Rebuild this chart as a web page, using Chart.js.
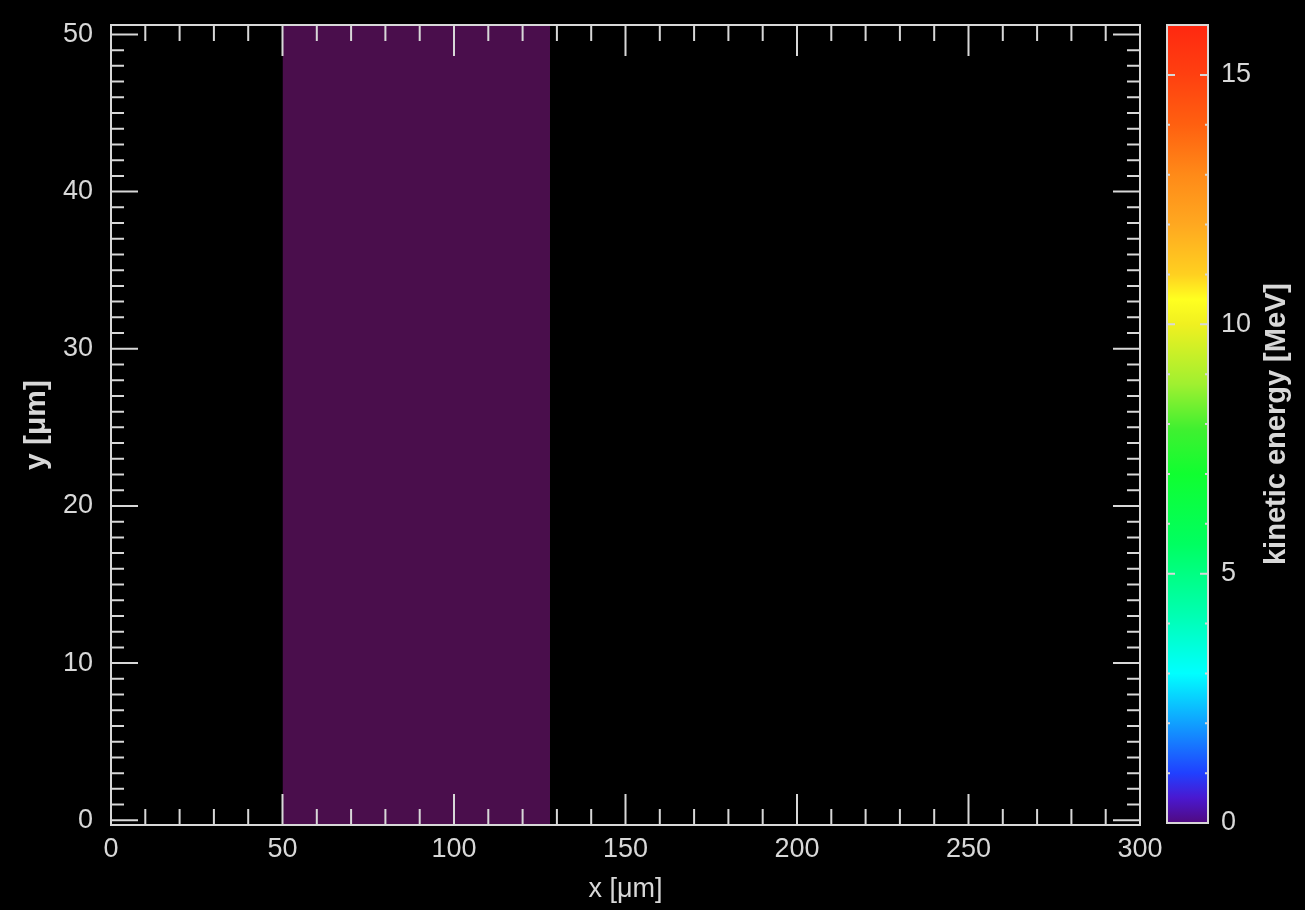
<!DOCTYPE html>
<html>
<head>
<meta charset="utf-8">
<script src="https://cdn.jsdelivr.net/npm/chart.js@4.4.0/dist/chart.umd.min.js"></script>
<style>
  html, body { margin: 0; padding: 0; background: #000; }
  #wrap { position: relative; width: 1305px; height: 910px; }
  #plot { position: absolute; left: 0; top: 0; }
  #cbar { position: absolute; left: 1150px; top: 0; }
</style>
</head>
<body>
<div id="wrap">
  <canvas id="plot" width="1305" height="910"></canvas>
  <canvas id="cbar" width="155" height="910"></canvas>
</div>
<script>
// axes (µm)
const xRange = [0, 300];
const yRange = [-0.3, 50.6];
const xTicks = [0, 50, 100, 150, 200, 250, 300];
const yTicks = [0, 10, 20, 30, 40, 50];
const xMinorStep = 10;
const yMinorStep = 1;

// the slab of particles (all at ~0 MeV)
const slabX = [50, 128];
const slabY = [50.6, 50.6];
const slabColor = '#4a0e4c';

// colour bar, kinetic energy [MeV]
const cbRange = [0, 16];
const cbTicks = [0, 5, 10, 15];
const cbStopValues = [0, 0.5, 1, 2, 3, 4.2, 5.6, 7, 7.9, 8.8, 10, 10.5, 11, 12, 13, 14, 15, 16];
const cbStopColors = ['#500a80', '#4a18d0', '#2040ff', '#10a0ff', '#00ffff', '#00ffb0', '#00ff60',
  '#10ff30', '#40f030', '#a0f030', '#f0f020', '#ffff20', '#ffd020', '#ffa820', '#ff8a18',
  '#ff6010', '#ff4010', '#ff2810'];

const fg = '#d8d8d8';
const fontFam = '"Liberation Sans", Arial, sans-serif';

// no extra room for first/last labels, the box is fixed
function noPad(s) {
  s.paddingLeft = 0; s.paddingRight = 0; s.paddingTop = 0; s.paddingBottom = 0;
}

// inward ticks on all four sides + box
const frame = {
  id: 'frame',
  afterDraw(chart) {
    const { ctx, chartArea: a, scales: { x, y } } = chart;
    ctx.save();
    ctx.strokeStyle = fg;
    ctx.lineWidth = 2;
    ctx.beginPath();
    for (let v = xRange[0]; v <= xRange[1]; v += xMinorStep) {
      const px = x.getPixelForValue(v);
      const len = xTicks.includes(v) ? 31 : 16;
      ctx.moveTo(px, a.bottom); ctx.lineTo(px, a.bottom - len);
      ctx.moveTo(px, a.top); ctx.lineTo(px, a.top + len);
    }
    for (let v = yTicks[0]; v <= yTicks[yTicks.length - 1]; v += yMinorStep) {
      const py = y.getPixelForValue(v);
      const len = yTicks.includes(v) ? 27 : 13;
      ctx.moveTo(a.left, py); ctx.lineTo(a.left + len, py);
      ctx.moveTo(a.right, py); ctx.lineTo(a.right - len, py);
    }
    ctx.stroke();
    ctx.strokeRect(a.left, a.top, a.width, a.height);
    ctx.restore();
  }
};

new Chart(document.getElementById('plot'), {
  type: 'line',
  data: {
    datasets: [{
      data: slabX.map((x, i) => ({ x: x, y: slabY[i] })),
      fill: 'start',
      backgroundColor: slabColor,
      borderWidth: 0,
      pointRadius: 0
    }]
  },
  options: {
    responsive: false,
    animation: false,
    layout: { padding: { top: 25, right: 165, left: 0, bottom: 0 } },
    plugins: { legend: { display: false }, tooltip: { enabled: false } },
    scales: {
      x: {
        type: 'linear', min: xRange[0], max: xRange[1],
        grid: { display: false, drawTicks: false },
        border: { display: false },
        afterBuildTicks: s => { s.ticks = xTicks.map(v => ({ value: v })); },
        afterFit: s => { s.height = 85; noPad(s); },
        ticks: { color: fg, font: { family: fontFam, size: 27 }, padding: 8, maxRotation: 0, autoSkip: false },
        title: { display: true, text: 'x [μm]', color: fg, font: { family: fontFam, size: 27 }, padding: { top: 0, bottom: 4 } }
      },
      y: {
        type: 'linear', min: yRange[0], max: yRange[1],
        grid: { display: false, drawTicks: false },
        border: { display: false },
        afterBuildTicks: s => { s.ticks = yTicks.map(v => ({ value: v })); },
        afterFit: s => { s.width = 111; noPad(s); },
        ticks: { color: fg, font: { family: fontFam, size: 27 }, padding: 18, autoSkip: false },
        title: { display: true, text: 'y [μm]', color: fg, font: { family: fontFam, size: 30, weight: 'bold' }, padding: { top: 19, bottom: 0 } }
      }
    }
  },
  plugins: [frame]
});

// colour bar box, ticks and rotated title
const cbFrame = {
  id: 'cbFrame',
  afterDraw(chart) {
    const { ctx, chartArea: a, scales: { y } } = chart;
    ctx.save();
    ctx.strokeStyle = fg;
    ctx.lineWidth = 2;
    ctx.beginPath();
    for (let v = cbRange[0]; v <= cbRange[1]; v++) {
      const py = y.getPixelForValue(v);
      const len = cbTicks.includes(v) ? 8 : 3;
      ctx.moveTo(a.left, py); ctx.lineTo(a.left + len, py);
      ctx.moveTo(a.right, py); ctx.lineTo(a.right - len, py);
    }
    ctx.stroke();
    ctx.strokeRect(a.left, a.top, a.width, a.height);
    ctx.translate(127, (a.top + a.bottom) / 2);
    ctx.rotate(-Math.PI / 2);
    ctx.fillStyle = fg;
    ctx.font = 'bold 29px ' + fontFam;
    ctx.textAlign = 'center';
    ctx.textBaseline = 'middle';
    ctx.fillText('kinetic energy [MeV]', 0, 0);
    ctx.restore();
  }
};

new Chart(document.getElementById('cbar'), {
  type: 'bar',
  data: {
    labels: ['E'],
    datasets: [{
      data: [cbRange[1]],
      barPercentage: 1,
      categoryPercentage: 1,
      borderWidth: 0,
      backgroundColor: c => {
        const chart = c.chart;
        if (!chart.chartArea) return cbStopColors[0];
        const y = chart.scales.y;
        const g = chart.ctx.createLinearGradient(0, y.getPixelForValue(cbRange[0]), 0, y.getPixelForValue(cbRange[1]));
        cbStopValues.forEach((v, i) => g.addColorStop((v - cbRange[0]) / (cbRange[1] - cbRange[0]), cbStopColors[i]));
        return g;
      }
    }]
  },
  options: {
    responsive: false,
    animation: false,
    layout: { padding: { left: 17, top: 25, bottom: 87, right: 0 } },
    plugins: { legend: { display: false }, tooltip: { enabled: false } },
    scales: {
      x: { display: false },
      y: {
        position: 'right', min: cbRange[0], max: cbRange[1],
        grid: { display: false, drawTicks: false },
        border: { display: false },
        afterBuildTicks: s => { s.ticks = cbTicks.map(v => ({ value: v })); },
        afterFit: s => { s.width = 97; noPad(s); },
        ticks: { color: fg, font: { family: fontFam, size: 27 }, padding: 13 }
      }
    }
  },
  plugins: [cbFrame]
});
</script>
</body>
</html>
